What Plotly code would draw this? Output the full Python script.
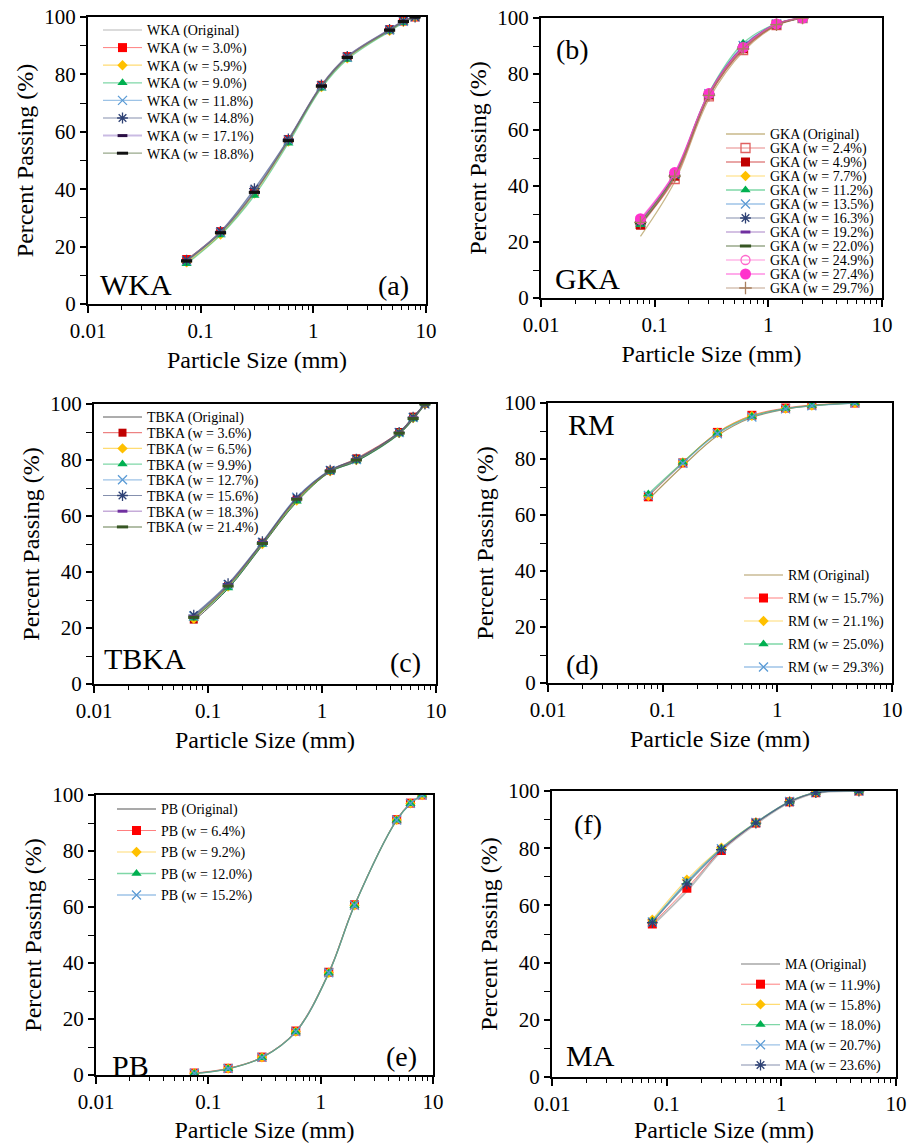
import plotly.graph_objects as go

FONT = "Liberation Serif, Times New Roman, serif"
W, H = 913, 1143

# Sieve openings (mm)
SIEVE_9 = [0.075, 0.15, 0.3, 0.6, 1.18, 2.0, 4.75, 6.3, 8.0]
SIEVE_7 = [0.075, 0.15, 0.3, 0.6, 1.18, 2.0, 4.75]
SIEVE_6 = [0.075, 0.15, 0.3, 0.6, 1.18, 2.0]

# Percent passing for each moisture content
WKA_W = ["Original", "3.0", "5.9", "9.0", "11.8", "14.8", "17.1", "18.8"]
WKA_PASSING = [
    [14.8, 24.8, 39.0, 57.0, 75.8, 85.8, 95.3, 98.3, 100],
    [15.5, 25.2, 39.3, 57.3, 76.2, 86.2, 95.6, 98.6, 100],
    [14.5, 24.2, 38.5, 56.6, 75.6, 85.6, 95.2, 98.3, 100],
    [14.0, 24.0, 37.8, 56.0, 75.2, 85.2, 95.0, 98.0, 100],
    [15.2, 25.0, 39.6, 57.2, 76.0, 86.0, 95.5, 98.5, 100],
    [15.3, 25.3, 40.2, 57.5, 76.3, 86.3, 95.7, 98.7, 100],
    [15.0, 24.9, 39.0, 57.0, 76.0, 86.0, 95.5, 98.5, 100],
    [15.0, 24.8, 38.9, 56.9, 75.9, 85.9, 95.4, 98.4, 100],
]

GKA_W = ["Original", "2.4", "4.9", "7.7", "11.2", "13.5", "16.3", "19.2",
         "22.0", "24.9", "27.4", "29.7"]
GKA_PASSING = [
    [22.0, 41.5, 71.0, 88.0, 97.3, 100],
    [26.5, 42.5, 72.0, 88.5, 97.5, 100],
    [26.0, 43.5, 72.5, 89.0, 97.6, 100],
    [27.0, 44.0, 72.8, 89.5, 97.8, 100],
    [26.2, 43.8, 73.3, 91.0, 98.0, 100],
    [27.5, 44.2, 73.0, 90.2, 97.9, 100],
    [27.2, 44.0, 72.8, 89.8, 97.8, 100],
    [27.8, 44.5, 73.2, 89.6, 97.8, 100],
    [26.8, 43.6, 72.6, 89.2, 97.7, 100],
    [28.0, 44.6, 73.0, 89.4, 97.8, 100],
    [28.3, 44.8, 73.0, 89.5, 97.9, 100],
    [27.0, 43.5, 72.4, 89.0, 97.6, 100],
]

TBKA_W = ["Original", "3.6", "6.5", "9.9", "12.7", "15.6", "18.3", "21.4"]
TBKA_PASSING = [
    [22.5, 34.0, 49.5, 65.0, 75.8, 79.5, 89.3, 94.5, 100],
    [23.0, 35.0, 50.5, 66.0, 76.2, 80.6, 90.0, 95.5, 100],
    [23.3, 34.8, 50.0, 65.5, 76.0, 80.0, 89.6, 95.0, 100],
    [23.5, 34.3, 49.8, 65.3, 75.8, 79.6, 89.3, 94.6, 100],
    [24.3, 35.5, 50.6, 66.7, 76.3, 80.2, 89.8, 95.2, 100],
    [24.6, 35.8, 50.8, 66.5, 76.4, 80.3, 89.9, 95.3, 100],
    [24.0, 35.3, 50.4, 66.3, 76.1, 80.1, 89.7, 95.0, 100],
    [23.8, 35.0, 50.2, 66.0, 76.0, 80.0, 89.6, 94.8, 100],
]

RM_W = ["Original", "15.7", "21.1", "25.0", "29.3"]
RM_PASSING = [
    [65.5, 77.5, 88.3, 94.8, 97.8, 99.0, 100],
    [66.5, 78.6, 89.5, 95.6, 98.2, 99.3, 100],
    [66.8, 78.8, 89.4, 95.4, 98.0, 99.1, 100],
    [67.5, 78.8, 89.2, 95.2, 98.0, 99.1, 100],
    [67.0, 78.5, 89.0, 95.0, 97.9, 99.0, 100],
]

PB_W = ["Original", "6.4", "9.2", "12.0", "15.2"]
PB_PASSING = [
    [0.6, 2.2, 6.2, 15.3, 36.3, 60.5, 91.0, 97.0, 100],
    [0.7, 2.4, 6.4, 15.7, 36.7, 60.8, 91.2, 97.1, 100],
    [0.6, 2.3, 6.3, 15.5, 36.5, 60.6, 91.1, 97.0, 100],
    [0.5, 2.2, 6.2, 15.4, 36.4, 60.5, 91.0, 96.9, 100],
    [0.6, 2.3, 6.3, 15.5, 36.5, 60.6, 91.1, 97.0, 100],
]

MA_W = ["Original", "11.9", "15.8", "18.0", "20.7", "23.6"]
MA_PASSING = [
    [53.0, 65.0, 79.0, 88.5, 96.0, 99.3, 100],
    [53.5, 66.0, 79.2, 88.8, 96.2, 99.4, 100],
    [55.0, 69.0, 80.2, 89.0, 96.3, 99.5, 100],
    [54.5, 68.0, 80.0, 89.0, 96.3, 99.5, 100],
    [54.2, 68.3, 79.8, 89.0, 96.3, 99.5, 100],
    [54.0, 67.5, 79.5, 88.8, 96.2, 99.4, 100],
]

# symbol, marker colour, line colour, line width, marker size
STYLES = {
    "orig_light": (None, None, "#CFCFCF", 1.5, 0),
    "orig_tan": (None, None, "#C8B88A", 1.3, 0),
    "orig_dark": (None, None, "#5A5A5A", 1.0, 0),
    "orig_olive": (None, None, "#B09A62", 1.2, 0),
    "orig_gray": (None, None, "#8C8C8C", 1.3, 0),
    "orig_silver": (None, None, "#BDBDBD", 2.0, 0),
    "red_sq": ("square", "#FF0000", "rgba(255,0,0,0.5)", 1.0, 9),
    "red_sq_open": ("square-open", "#E06060", "rgba(224,96,96,0.75)", 1.2, 9),
    "dred_sq": ("square", "#C00000", "rgba(192,0,0,0.35)", 2.0, 9),
    "dred_sq_thin": ("square", "#C00000", "rgba(225,50,50,0.75)", 1.0, 8),
    "yel_dia": ("diamond", "#FFC000", "rgba(255,192,0,0.55)", 1.2, 8),
    "grn_tri": ("triangle-up", "#00B050", "rgba(0,176,80,0.5)", 1.3, 9),
    "blu_x": ("x-thin-open", "#5B9BD5", "rgba(91,155,213,0.6)", 1.3, 9),
    "nav_ast": ("asterisk-open", "#2F4275", "rgba(68,84,130,0.65)", 1.2, 9),
    "pur_dash": ("line-ew", "#7030A0", "rgba(112,48,160,0.4)", 1.5, 7),
    "dpur_dash": ("line-ew", "#2B0F45", "rgba(150,120,200,0.5)", 2.0, 7),
    "blk_dash": ("line-ew", "#111111", "rgba(84,110,60,0.6)", 1.2, 8),
    "dgr_dash": ("line-ew", "#375623", "rgba(84,110,60,0.45)", 2.0, 8),
    "pink_open": ("circle-open", "#FF66CC", "rgba(255,102,204,0.7)", 1.2, 9),
    "pink_dot": ("circle", "#FF33CC", "rgba(255,51,204,0.55)", 1.5, 11),
    "tan_plus": ("cross-thin-open", "#A87F5E", "rgba(168,127,94,0.7)", 1.2, 9),
}

WKA_STYLE = ["orig_light", "red_sq", "yel_dia", "grn_tri", "blu_x", "nav_ast",
             "dpur_dash", "blk_dash"]
GKA_STYLE = ["orig_tan", "red_sq_open", "dred_sq", "yel_dia", "grn_tri", "blu_x",
             "nav_ast", "pur_dash", "dgr_dash", "pink_open", "pink_dot", "tan_plus"]
TBKA_STYLE = ["orig_dark", "dred_sq_thin", "yel_dia", "grn_tri", "blu_x", "nav_ast",
              "pur_dash", "dgr_dash"]
RM_STYLE = ["orig_olive", "red_sq", "yel_dia", "grn_tri", "blu_x"]
PB_STYLE = ["orig_gray", "red_sq", "yel_dia", "grn_tri", "blu_x"]
MA_STYLE = ["orig_silver", "red_sq", "yel_dia", "grn_tri", "blu_x", "nav_ast"]

# plot-area boxes in pixels (left, top, right, bottom), legend placement
# (legend left, first row centre, row pitch) and in-panel labels
PANELS = [
    dict(name="WKA", sizes=SIEVE_9, w=WKA_W, vals=WKA_PASSING, styles=WKA_STYLE,
         box=(88, 17, 426, 304), legend=(98, 30, 17.6),
         name_pos=(98, 284), tag="(a)", tag_pos=(393, 285)),
    dict(name="GKA", sizes=SIEVE_6, w=GKA_W, vals=GKA_PASSING, styles=GKA_STYLE,
         box=(541, 18, 882, 298), legend=(721, 134, 14.0),
         name_pos=(553, 278), tag="(b)", tag_pos=(572, 49)),
    dict(name="TBKA", sizes=SIEVE_9, w=TBKA_W, vals=TBKA_PASSING, styles=TBKA_STYLE,
         box=(94, 404, 436, 684), legend=(98, 417, 15.7),
         name_pos=(102, 658), tag="(c)", tag_pos=(405, 662)),
    dict(name="RM", sizes=SIEVE_7, w=RM_W, vals=RM_PASSING, styles=RM_STYLE,
         box=(548, 403, 892, 683), legend=(739, 575, 23.0),
         name_pos=(566, 424), tag="(d)", tag_pos=(582, 664)),
    dict(name="PB", sizes=SIEVE_9, w=PB_W, vals=PB_PASSING, styles=PB_STYLE,
         box=(96, 795, 433, 1075), legend=(112, 809, 21.5),
         name_pos=(110, 1065), tag="(e)", tag_pos=(401, 1056)),
    dict(name="MA", sizes=SIEVE_7, w=MA_W, vals=MA_PASSING, styles=MA_STYLE,
         box=(552, 791, 896, 1077), legend=(736, 964, 20.2),
         name_pos=(564, 1055), tag="(f)", tag_pos=(588, 824)),
]

DECADES = [0.01, 0.1, 1, 10]
DECADE_TEXT = ["0.01", "0.1", "1", "10"]
MINOR_X = [m * d for d in (0.01, 0.1, 1) for m in range(2, 10)]


def fx(px):
    return px / W


def fy(py):
    return 1 - py / H


fig = go.Figure()
layout = dict(
    width=W, height=H,
    margin=dict(l=0, r=0, t=0, b=0, pad=0, autoexpand=False),
    paper_bgcolor="white", plot_bgcolor="white",
    font=dict(family=FONT, color="black"),
    annotations=[],
)
legend_spec = {}

for k, p in enumerate(PANELS, start=1):
    sfx = "" if k == 1 else str(k)
    lg_id = "legend" + sfx
    for label, vals, skey in zip(p["w"], p["vals"], p["styles"]):
        sym, mcol, lcol, lw, msize = STYLES[skey]
        text = f"{p['name']} (Original)" if label == "Original" else f"{p['name']} (w = {label}%)"
        tr = dict(
            x=p["sizes"], y=vals, name=text,
            xaxis="x" + sfx, yaxis="y" + sfx, legend=lg_id,
            line=dict(color=lcol, width=lw, shape="spline", smoothing=1.0),
            hoverinfo="skip",
        )
        if sym is None:
            tr["mode"] = "lines"
        else:
            tr["mode"] = "lines+markers"
            if sym.startswith("line") or sym.endswith("-open"):
                mline = dict(color=mcol, width=3 if sym.startswith("line") else 1.3)
            else:
                mline = dict(width=0)
            tr["marker"] = dict(symbol=sym, color=mcol, size=msize, line=mline)
        fig.add_trace(go.Scatter(**tr))

    l, t, r, b = p["box"]
    layout["xaxis" + sfx] = dict(
        type="log", range=[-2, 1], domain=[fx(l), fx(r)], anchor="y" + sfx,
        tickvals=DECADES, ticktext=DECADE_TEXT, automargin=False,
        ticks="outside", ticklen=7, tickwidth=1.5, tickcolor="black",
        minor=dict(tickvals=MINOR_X, ticks="outside", ticklen=4,
                   tickwidth=1.2, tickcolor="black", showgrid=False),
        showline=True, linecolor="black", linewidth=2, mirror=True,
        showgrid=False, zeroline=False,
        tickfont=dict(family=FONT, size=21, color="black"),
        title=dict(text="Particle Size (mm)", font=dict(family=FONT, size=24),
                   standoff=9),
    )
    layout["yaxis" + sfx] = dict(
        range=[0, 100], domain=[fy(b), fy(t)], anchor="x" + sfx,
        automargin=False,
        dtick=20, ticks="outside", ticklen=6, tickwidth=1.5, tickcolor="black",
        minor=dict(dtick=10, ticks="outside", ticklen=6, tickwidth=1.2,
                   tickcolor="black", showgrid=False),
        showline=True, linecolor="black", linewidth=2, mirror=True,
        showgrid=False, zeroline=False,
        tickfont=dict(family=FONT, size=21, color="black"),
        title=dict(text="Percent Passing (%)", font=dict(family=FONT, size=24),
                   standoff=4),
    )
    lx, ly, pitch = p["legend"]
    layout[lg_id] = dict(
        x=fx(lx), y=fy(ly - 10), xanchor="left", yanchor="top",
        bgcolor="rgba(0,0,0,0)", borderwidth=0, itemwidth=39,
        tracegroupgap=0, font=dict(family=FONT, size=14, color="black"),
    )
    legend_spec[lg_id] = (ly, pitch)

    nx, ny = p["name_pos"]
    layout["annotations"].append(dict(
        text=p["name"], x=fx(nx), y=fy(ny), xref="paper", yref="paper",
        xanchor="left", yanchor="middle", showarrow=False,
        font=dict(family=FONT, size=30, color="black")))
    tx, ty = p["tag_pos"]
    layout["annotations"].append(dict(
        text=p["tag"], x=fx(tx), y=fy(ty), xref="paper", yref="paper",
        xanchor="center", yanchor="middle", showarrow=False,
        font=dict(family=FONT, size=28, color="black")))

fig.update_layout(**layout)

# Tighten legend row pitch (plotly enforces a minimum row height)
spec_js = ",".join(f'"{k}":[{v[0]},{v[1]}]' for k, v in legend_spec.items())
post = """
try {
  document.body.style.margin = '0';
  var gd = document.getElementById('{plot_id}');
  var spec = {""" + spec_js + """};
  var re = /translate\\(\\s*([-\\d.e]+)[ ,]+([-\\d.e]+)\\s*\\)/;
  Object.keys(spec).forEach(function(id) {
    var lg = gd.querySelector('g.infolayer > g.' + id) || gd.querySelector('g.' + id);
    if (!lg) return;
    var m = re.exec(lg.getAttribute('transform') || '');
    var oy = m ? parseFloat(m[2]) : 0;
    var sb = lg.querySelector('g.scrollbox');
    if (sb) sb.removeAttribute('clip-path');
    var items = lg.querySelectorAll('g.traces');
    items.forEach(function(it, i) {
      var t = re.exec(it.getAttribute('transform') || '');
      var tx = t ? t[1] : 0;
      var yy = spec[id][0] + i * spec[id][1] - oy;
      it.setAttribute('transform', 'translate(' + tx + ',' + yy + ')');
    });
  });
} catch (e) {}
"""

fig.write_html("out.html", post_script=post)
